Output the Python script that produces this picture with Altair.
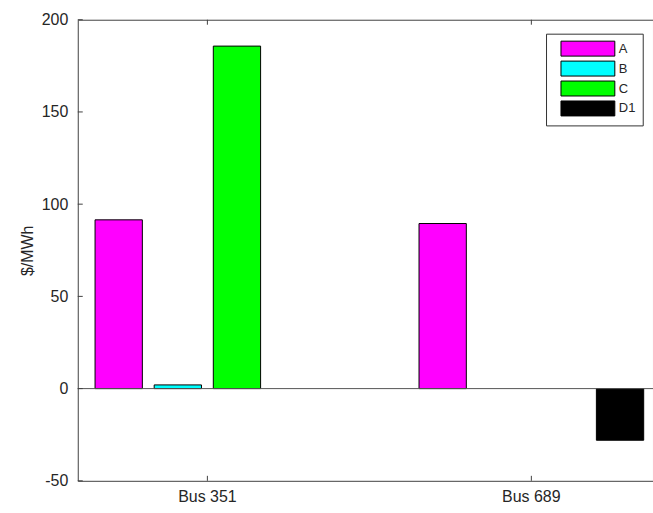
import altair as alt
import pandas as pd

buses = ["Bus 351", "Bus 689"]
series = ["A", "B", "C", "D1"]
colors = ["#ff00ff", "#00ffff", "#00ff00", "#000000"]
values_bus351 = [91.5, 2.0, 185.7, 0.0]
values_bus689 = [89.5, 0.0, 0.0, -28.0]
y_ticks = [-50, 0, 50, 100, 150, 200]

rows = []
for b, vals in zip(buses, [values_bus351, values_bus689]):
    for s, v in zip(series, vals):
        rows.append({"bus": b, "series": s, "value": v})
df = pd.DataFrame(rows)
bus_df = pd.DataFrame({"bus": buses})
ytick_df = pd.DataFrame({"value": y_ticks})

FONT = "Liberation Sans"
AX = "#404040"
W, H = 577, 462.5

xscale = alt.Scale(domain=buses, paddingInner=0.27, paddingOuter=0.0228, align=0.77)
yscale = alt.Scale(domain=[-50, 200], nice=False, zero=False)

legend_path = "M-3.6,-1L3.6,-1L3.6,1L-3.6,1Z"

bars = alt.Chart(df).mark_bar(stroke="black", strokeWidth=1, opacity=1).encode(
    x=alt.X("bus:N", scale=xscale, title=None,
            axis=alt.Axis(labelAngle=0, labelPadding=8)),
    xOffset=alt.XOffset("series:N", scale=alt.Scale(domain=series, paddingInner=0.2, paddingOuter=0.1)),
    y=alt.Y("value:Q", scale=yscale, title="$/MWh",
            axis=alt.Axis(values=y_ticks, labelPadding=10, titlePadding=6,
                          labelExpr="'' + datum.value")),
    color=alt.Color("series:N", scale=alt.Scale(domain=series, range=colors), title=None,
                    legend=alt.Legend(orient="none", legendX=469.7, legendY=14, padding=7,
                                      strokeColor="#333333", fillColor="white",
                                      symbolType=legend_path, symbolSize=225,
                                      symbolStrokeColor="black", symbolStrokeWidth=1,
                                      symbolOffset=27, labelOffset=23, rowPadding=0,
                                      labelFontSize=13, labelFont=FONT, labelColor="#262626")),
    strokeOpacity=alt.condition("datum.value == 0", alt.value(0), alt.value(1)),
)

baseline = alt.Chart(ytick_df).transform_filter("datum.value == 0").mark_rule(
    color="#555555", strokeWidth=1).encode(
    y=alt.Y("value:Q", scale=yscale),
)

yticks = alt.Chart(ytick_df).mark_rule(color=AX, strokeWidth=1).encode(
    y=alt.Y("value:Q", scale=yscale),
    x=alt.value(0), x2=alt.value(5),
)

xticks_bottom = alt.Chart(bus_df).mark_rule(color=AX, strokeWidth=1).encode(
    x=alt.X("bus:N", scale=xscale),
    y=alt.value(H), y2=alt.value(H - 5),
)
xticks_top = alt.Chart(bus_df).mark_rule(color=AX, strokeWidth=1).encode(
    x=alt.X("bus:N", scale=xscale),
    y=alt.value(0), y2=alt.value(5),
)

chart = alt.layer(bars, baseline, yticks, xticks_bottom, xticks_top).properties(
    width=W, height=H,
    autosize=alt.AutoSizeParams(type="none"),
    padding={"left": 78, "top": 19, "right": 0, "bottom": 32},
    background="white",
).configure_view(
    stroke=AX, strokeWidth=1,
).configure_axis(
    domain=False, ticks=False, grid=False,
    labelFont=FONT, labelFontSize=16, labelColor="#262626",
    titleFont=FONT, titleFontSize=16, titleFontWeight="normal", titleColor="#262626",
)

chart.save("out.html", embed_options={"renderer": "svg", "actions": False})
